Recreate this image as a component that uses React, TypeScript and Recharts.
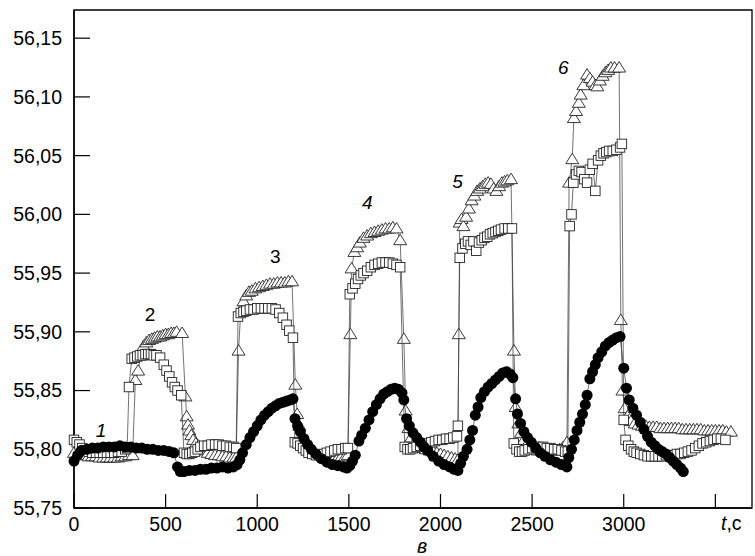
import React from "react"
import {
  ScatterChart,
  Scatter,
  XAxis,
  YAxis,
  ReferenceArea,
  ReferenceDot,
} from "recharts"

// filled circles: [t, value]
const circles: [number, number][] = [
  [0, 55.79], [20, 55.795], [40, 55.799], [70, 55.8], [100, 55.801], [130, 55.801],
  [160, 55.802], [190, 55.802], [220, 55.802], [250, 55.803], [280, 55.802], [310, 55.802],
  [340, 55.801], [370, 55.801], [400, 55.8], [430, 55.8], [460, 55.799], [490, 55.799],
  [520, 55.798], [545, 55.797], [565, 55.785], [580, 55.781], [600, 55.781], [630, 55.782],
  [660, 55.782], [690, 55.783], [720, 55.783], [750, 55.784], [780, 55.784], [810, 55.785],
  [840, 55.784], [870, 55.785], [890, 55.787], [905, 55.791], [920, 55.797], [940, 55.804],
  [960, 55.81], [980, 55.815], [1000, 55.82], [1020, 55.825], [1040, 55.829], [1060, 55.832],
  [1080, 55.835], [1100, 55.837], [1120, 55.839], [1140, 55.84], [1160, 55.841], [1180, 55.842],
  [1195, 55.843], [1206, 55.826], [1220, 55.82], [1235, 55.815], [1255, 55.809], [1275, 55.804],
  [1295, 55.8], [1320, 55.796], [1350, 55.792], [1380, 55.789], [1410, 55.787], [1440, 55.786],
  [1470, 55.785], [1490, 55.784], [1505, 55.786], [1520, 55.79], [1535, 55.795], [1555, 55.807],
  [1570, 55.812], [1590, 55.818], [1610, 55.825], [1630, 55.832], [1650, 55.838], [1670, 55.843],
  [1690, 55.847], [1710, 55.849], [1730, 55.851], [1750, 55.852], [1770, 55.851], [1790, 55.848],
  [1800, 55.842], [1815, 55.826], [1830, 55.82], [1850, 55.814], [1870, 55.81], [1890, 55.806],
  [1910, 55.802], [1930, 55.799], [1960, 55.794], [1990, 55.79], [2020, 55.787], [2050, 55.785],
  [2075, 55.783], [2095, 55.782], [2110, 55.788], [2125, 55.794], [2145, 55.8], [2160, 55.808],
  [2175, 55.816], [2190, 55.829], [2205, 55.836], [2220, 55.844], [2240, 55.849], [2260, 55.853],
  [2280, 55.856], [2300, 55.859], [2320, 55.862], [2340, 55.865], [2360, 55.866], [2380, 55.864],
  [2395, 55.861], [2410, 55.843], [2420, 55.83], [2437, 55.822], [2455, 55.815], [2475, 55.81],
  [2495, 55.806], [2520, 55.801], [2545, 55.797], [2570, 55.794], [2600, 55.791], [2630, 55.789],
  [2660, 55.787], [2690, 55.785], [2700, 55.793], [2715, 55.8], [2730, 55.808], [2745, 55.816],
  [2760, 55.823], [2775, 55.83], [2790, 55.838], [2800, 55.846], [2815, 55.86], [2830, 55.866],
  [2845, 55.872], [2860, 55.878], [2880, 55.883], [2900, 55.888], [2920, 55.891], [2940, 55.893],
  [2960, 55.895], [2980, 55.896], [3000, 55.869], [3015, 55.852], [3030, 55.842], [3050, 55.835],
  [3070, 55.829], [3090, 55.823], [3110, 55.817], [3130, 55.811], [3150, 55.806], [3170, 55.803],
  [3190, 55.8], [3210, 55.798], [3230, 55.796], [3250, 55.793], [3270, 55.79], [3290, 55.787],
  [3310, 55.784], [3325, 55.781],
]

// open squares: [t, value]
const squares: [number, number][] = [
  [0, 55.808], [15, 55.806], [30, 55.804], [45, 55.801], [60, 55.799], [80, 55.798],
  [100, 55.797], [120, 55.797], [140, 55.797], [160, 55.797], [180, 55.797], [200, 55.797],
  [220, 55.797], [240, 55.798], [260, 55.798], [280, 55.8], [290, 55.801], [300, 55.853],
  [315, 55.877], [330, 55.878], [345, 55.879], [360, 55.88], [375, 55.88], [390, 55.881],
  [405, 55.881], [420, 55.881], [435, 55.88], [450, 55.88], [470, 55.878], [490, 55.872],
  [505, 55.867], [520, 55.862], [535, 55.857], [550, 55.853], [565, 55.85], [585, 55.846],
  [600, 55.797], [615, 55.796], [630, 55.796], [645, 55.797], [660, 55.798], [675, 55.8],
  [690, 55.802], [710, 55.803], [730, 55.803], [750, 55.804], [770, 55.804], [790, 55.804],
  [810, 55.803], [830, 55.803], [850, 55.802], [870, 55.802], [885, 55.801], [895, 55.913],
  [910, 55.916], [925, 55.917], [940, 55.918], [960, 55.919], [980, 55.919], [1000, 55.92],
  [1020, 55.92], [1040, 55.92], [1060, 55.92], [1080, 55.92], [1100, 55.919], [1120, 55.916],
  [1140, 55.912], [1160, 55.906], [1175, 55.901], [1195, 55.895], [1205, 55.806], [1220, 55.805],
  [1235, 55.803], [1250, 55.801], [1265, 55.799], [1280, 55.797], [1300, 55.796], [1320, 55.795],
  [1340, 55.795], [1360, 55.796], [1380, 55.797], [1400, 55.798], [1420, 55.799], [1440, 55.8],
  [1460, 55.8], [1480, 55.801], [1495, 55.801], [1505, 55.932], [1520, 55.937], [1535, 55.941],
  [1550, 55.945], [1565, 55.948], [1580, 55.95], [1600, 55.952], [1620, 55.955], [1640, 55.957],
  [1660, 55.958], [1680, 55.959], [1700, 55.959], [1720, 55.959], [1740, 55.958], [1760, 55.957],
  [1780, 55.955], [1805, 55.802], [1820, 55.8], [1835, 55.8], [1850, 55.801], [1870, 55.802],
  [1890, 55.803], [1910, 55.804], [1930, 55.805], [1950, 55.806], [1970, 55.807], [1990, 55.808],
  [2010, 55.808], [2030, 55.809], [2050, 55.809], [2070, 55.81], [2090, 55.811], [2095, 55.82],
  [2105, 55.963], [2120, 55.971], [2135, 55.975], [2150, 55.977], [2165, 55.974], [2180, 55.977],
  [2195, 55.969], [2210, 55.976], [2225, 55.978], [2240, 55.98], [2255, 55.981], [2270, 55.983],
  [2285, 55.984], [2300, 55.985], [2315, 55.986], [2330, 55.987], [2350, 55.988], [2370, 55.988],
  [2390, 55.988], [2400, 55.805], [2415, 55.8], [2430, 55.798], [2445, 55.798], [2460, 55.799],
  [2480, 55.8], [2500, 55.801], [2520, 55.802], [2540, 55.802], [2560, 55.802], [2580, 55.801],
  [2600, 55.801], [2620, 55.8], [2640, 55.8], [2660, 55.799], [2680, 55.798], [2695, 55.798],
  [2705, 55.99], [2715, 56.0], [2725, 56.027], [2740, 56.034], [2755, 56.037], [2770, 56.036],
  [2785, 56.03], [2800, 56.027], [2815, 56.038], [2830, 56.043], [2845, 56.02], [2860, 56.046],
  [2875, 56.05], [2890, 56.052], [2905, 56.053], [2920, 56.054], [2940, 56.054], [2960, 56.055],
  [2980, 56.057], [2990, 56.06], [3000, 55.825], [3010, 55.808], [3025, 55.803], [3040, 55.8],
  [3055, 55.798], [3070, 55.797], [3090, 55.796], [3110, 55.795], [3130, 55.794], [3150, 55.794],
  [3170, 55.794], [3190, 55.794], [3210, 55.794], [3230, 55.795], [3250, 55.795], [3270, 55.795],
  [3290, 55.796], [3310, 55.796], [3330, 55.797], [3350, 55.798], [3370, 55.799], [3390, 55.801],
  [3410, 55.803], [3430, 55.805], [3450, 55.806], [3470, 55.807], [3490, 55.808], [3510, 55.809],
  [3530, 55.809], [3555, 55.808],
]

// open triangles: [t, value]
const triangles: [number, number][] = [
  [0, 55.797], [20, 55.796], [40, 55.795], [60, 55.795], [80, 55.794], [100, 55.794],
  [120, 55.794], [140, 55.793], [160, 55.793], [180, 55.793], [200, 55.793], [220, 55.793],
  [240, 55.793], [260, 55.794], [280, 55.794], [300, 55.795], [320, 55.795], [335, 55.859],
  [350, 55.867], [365, 55.88], [380, 55.888], [395, 55.891], [410, 55.893], [425, 55.894],
  [440, 55.895], [455, 55.896], [470, 55.896], [485, 55.897], [500, 55.898], [515, 55.898],
  [530, 55.899], [545, 55.899], [560, 55.9], [590, 55.899], [608, 55.845], [615, 55.828],
  [622, 55.821], [630, 55.816], [640, 55.812], [650, 55.808], [665, 55.805], [680, 55.803],
  [695, 55.801], [710, 55.799], [730, 55.797], [750, 55.796], [770, 55.795], [790, 55.795],
  [810, 55.794], [830, 55.794], [850, 55.793], [870, 55.793], [885, 55.793], [898, 55.884],
  [910, 55.918], [925, 55.926], [940, 55.931], [955, 55.934], [970, 55.935], [990, 55.937],
  [1010, 55.938], [1030, 55.939], [1050, 55.94], [1070, 55.941], [1090, 55.941], [1110, 55.942],
  [1130, 55.942], [1150, 55.942], [1170, 55.943], [1190, 55.943], [1208, 55.855], [1218, 55.83],
  [1230, 55.82], [1245, 55.812], [1260, 55.806], [1280, 55.801], [1300, 55.798], [1320, 55.796],
  [1340, 55.795], [1360, 55.794], [1380, 55.793], [1400, 55.793], [1420, 55.793], [1440, 55.793],
  [1460, 55.794], [1480, 55.794], [1495, 55.795], [1508, 55.898], [1515, 55.954], [1530, 55.968],
  [1545, 55.972], [1560, 55.976], [1580, 55.98], [1600, 55.982], [1620, 55.984], [1640, 55.985],
  [1660, 55.986], [1680, 55.987], [1700, 55.988], [1720, 55.988], [1740, 55.989], [1760, 55.988],
  [1780, 55.978], [1800, 55.894], [1810, 55.833], [1825, 55.818], [1840, 55.81], [1860, 55.806],
  [1880, 55.803], [1900, 55.801], [1920, 55.8], [1940, 55.799], [1960, 55.798], [1980, 55.797],
  [2000, 55.796], [2020, 55.795], [2040, 55.794], [2060, 55.793], [2080, 55.792], [2095, 55.791],
  [2100, 55.898], [2105, 55.993], [2115, 55.996], [2125, 55.99], [2140, 55.998], [2155, 56.005],
  [2170, 56.012], [2185, 56.016], [2200, 56.02], [2215, 56.022], [2230, 56.024], [2245, 56.026],
  [2260, 56.027], [2275, 56.026], [2290, 56.022], [2305, 56.02], [2320, 56.024], [2335, 56.027],
  [2350, 56.028], [2365, 56.029], [2385, 56.03], [2401, 55.884], [2410, 55.836], [2425, 55.822],
  [2440, 55.814], [2455, 55.808], [2470, 55.804], [2490, 55.801], [2510, 55.8], [2530, 55.799],
  [2550, 55.799], [2570, 55.799], [2590, 55.799], [2610, 55.799], [2630, 55.799], [2650, 55.8],
  [2670, 55.802], [2690, 55.806], [2702, 56.027], [2719, 56.047], [2728, 56.082], [2740, 56.088],
  [2755, 56.095], [2765, 56.102], [2780, 56.11], [2800, 56.119], [2815, 56.116], [2830, 56.113],
  [2845, 56.11], [2856, 56.109], [2870, 56.114], [2885, 56.118], [2900, 56.121], [2915, 56.123],
  [2930, 56.125], [2950, 56.125], [2975, 56.125], [2984, 55.91], [2993, 55.85], [3005, 55.835],
  [3020, 55.828], [3040, 55.824], [3060, 55.822], [3080, 55.821], [3100, 55.82], [3120, 55.82],
  [3140, 55.819], [3160, 55.819], [3180, 55.819], [3200, 55.818], [3220, 55.818], [3240, 55.818],
  [3260, 55.818], [3280, 55.818], [3300, 55.818], [3320, 55.817], [3340, 55.817], [3360, 55.817],
  [3380, 55.817], [3400, 55.817], [3420, 55.817], [3440, 55.816], [3460, 55.816], [3480, 55.816],
  [3500, 55.816], [3520, 55.816], [3540, 55.816], [3560, 55.815], [3585, 55.815],
]

const xTicks = [0, 500, 1000, 1500, 2000, 2500, 3000, 3500]
const yTicks = [55.75, 55.8, 55.85, 55.9, 55.95, 56.0, 56.05, 56.1, 56.15]

// curve numbers placed in data space
const curveLabels = ["1", "2", "3", "4", "5", "6"]
const curveLabelT = [147, 415, 1098, 1601, 2093, 2670]
const curveLabelV = [55.8162, 55.9147, 55.964, 56.0098, 56.0276, 56.1252]
const curveLabelItalic = [true, false, false, true, true, true]

const toPoints = (rows: [number, number][]) => rows.map(([t, v]) => ({ t, v }))

const FONT = "'Liberation Sans', Arial, sans-serif"
const LINE = { stroke: "#333", strokeWidth: 0.7 }

const Dot = (p: any) => <circle cx={p.cx} cy={p.cy} r={5.5} fill="#000" />

const Square = (p: any) => (
  <rect x={p.cx - 4.75} y={p.cy - 4.75} width={9.5} height={9.5} fill="#fff" stroke="#222" strokeWidth={0.9} />
)

const Triangle = (p: any) => (
  <path
    d={`M${p.cx},${p.cy - 6}L${p.cx + 6.5},${p.cy + 4.5}L${p.cx - 6.5},${p.cy + 4.5}Z`}
    fill="#fff"
    stroke="#222"
    strokeWidth={0.9}
  />
)

export default function App() {
  return (
    <div style={{ position: "absolute", left: 0, top: 0, width: 755, height: 556, background: "#fff", fontFamily: FONT }}>
      <ScatterChart width={755} height={556} margin={{ top: 10, right: 3, left: 0, bottom: 0 }}>
        <XAxis
          type="number"
          dataKey="t"
          domain={[0, 3700]}
          ticks={xTicks}
          tickFormatter={(v: number) => (v === 3500 ? "" : String(v))}
          height={48}
          tickSize={-14}
          tickMargin={23}
          interval={0}
          axisLine={{ stroke: "#000", strokeWidth: 1.5 }}
          tickLine={{ stroke: "#000", strokeWidth: 1.2 }}
          tick={{ fill: "#000", fontSize: 19.5, fontFamily: FONT }}
        />
        <YAxis
          type="number"
          dataKey="v"
          domain={[55.75, 56.174]}
          ticks={yTicks}
          tickFormatter={(v: number) => v.toFixed(2).replace(".", ",")}
          width={74}
          tickSize={-16}
          tickMargin={28}
          interval={0}
          axisLine={{ stroke: "#000", strokeWidth: 1.5 }}
          tickLine={{ stroke: "#000", strokeWidth: 1.2 }}
          tick={{ fill: "#000", fontSize: 19.5, fontFamily: FONT }}
        />
        <ReferenceArea x1={0} x2={3700} y1={55.75} y2={56.174} fill="none" stroke="#000" strokeWidth={1.3} />
        <Scatter data={toPoints(triangles)} line={LINE} shape={Triangle} isAnimationActive={false} />
        <Scatter data={toPoints(squares)} line={LINE} shape={Square} isAnimationActive={false} />
        <Scatter data={toPoints(circles)} line={LINE} shape={Dot} isAnimationActive={false} />
        {curveLabels.map((lbl, i) => (
          <ReferenceDot
            key={lbl}
            x={curveLabelT[i]}
            y={curveLabelV[i]}
            r={0}
            shape={(p: any) => (
              <text
                x={p.cx}
                y={p.cy}
                textAnchor="middle"
                dominantBaseline="central"
                fontStyle={curveLabelItalic[i] ? "italic" : "normal"}
                fontSize={19}
                fontFamily={FONT}
                fill="#000"
              >
                {lbl}
              </text>
            )}
          />
        ))}
      </ScatterChart>
      <div style={{ position: "absolute", left: 721, top: 512, fontSize: 19.5, lineHeight: "22px", color: "#000" }}>
        <i>t</i>,c
      </div>
      <div style={{ position: "absolute", left: 417, top: 535, fontSize: 19.5, lineHeight: "22px", fontStyle: "italic", color: "#000" }}>
        в
      </div>
    </div>
  )
}
